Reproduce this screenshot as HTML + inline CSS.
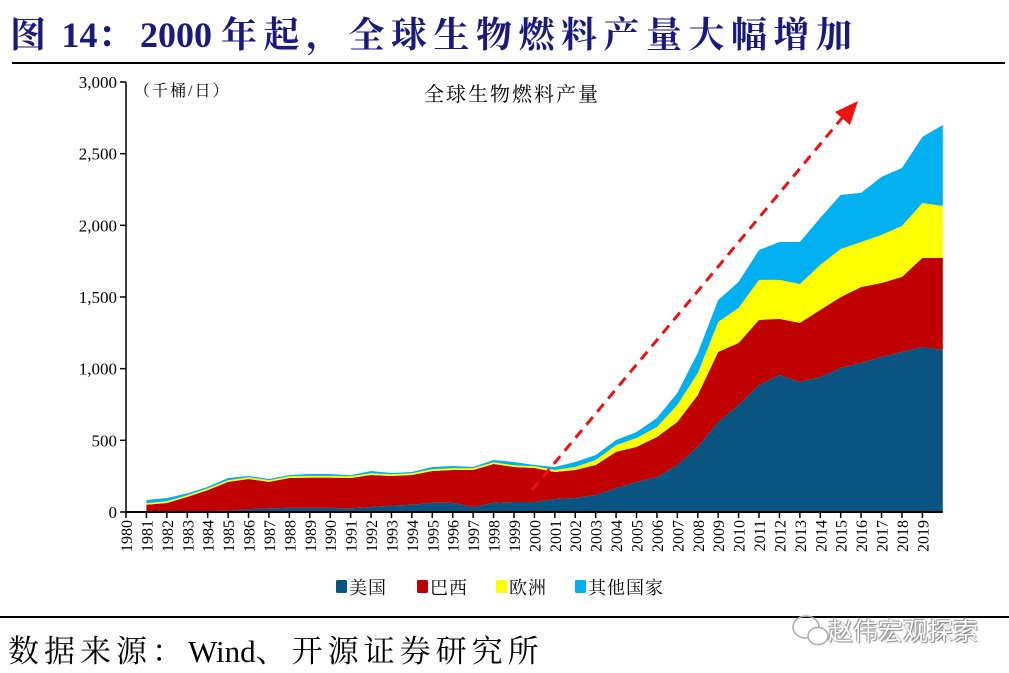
<!DOCTYPE html>
<html><head><meta charset="utf-8">
<style>
html,body{margin:0;padding:0;background:#fff;}
body{width:1009px;height:673px;position:relative;overflow:hidden;font-family:"Liberation Serif","Noto Serif CJK SC",serif;}
#title{position:absolute;left:10px;top:7px;font-size:36px;font-weight:bold;color:#1a1a7e;white-space:nowrap;}
#title .c{letter-spacing:6.5px;}
#src .c{letter-spacing:5px;}
#src{position:absolute;left:8px;top:626px;font-size:31px;color:#000;white-space:nowrap;}
#wm{position:absolute;left:828px;top:612px;font-size:25px;color:#fff;font-family:"Liberation Sans","Noto Sans CJK SC",sans-serif;text-shadow:0 0 1px #777,1px 1px 1px #888,-1px -1px 1px #999;white-space:nowrap;}
</style></head><body>
<div id="title"><span class="c">图</span> 14<span class="c">：</span>2000 <span class="c">年起，全球生物燃料产量大幅增加</span></div>
<svg id="chart" width="1009" height="673" style="position:absolute;left:0;top:0"></svg>
<div id="src"><span class="c">数据来源：</span>Wind<span class="c">、开源证券研究所</span></div>
<div id="wm">赵伟宏观探索</div>
<script>
const years = [1980,1981,1982,1983,1984,1985,1986,1987,1988,1989,1990,1991,1992,1993,1994,1995,1996,1997,1998,1999,2000,2001,2002,2003,2004,2005,2006,2007,2008,2009,2010,2011,2012,2013,2014,2015,2016,2017,2018,2019];
// data years 1981..2020 plotted at tick index 1..40
const usa = [0,0,0,5,10,20,25,30,30,30,25,35,45,50,65,65,35,65,70,70,91,98,119,167,209,244,328,454,628,747,886,956,907,942,1005,1040,1082,1117,1151,1130];
const brazil = [50,63,105,148,200,210,185,207,210,210,212,223,206,208,221,228,258,270,244,237,188,195,209,252,245,279,300,362,489,432,454,391,412,468,495,530,516,523,622,643];
const europe = [12,12,12,12,12,12,12,12,12,12,12,12,12,12,12,12,12,12,12,12,14,21,35,48,62,70,119,154,209,245,279,272,272,314,335,314,335,356,383,362];
const others = [22,23,13,10,15,9,8,9,13,13,8,16,9,9,16,16,9,16,23,9,21,35,35,35,42,63,83,140,153,181,209,265,293,328,377,342,405,404,461,565];
const yTicks = [0,500,1000,1500,2000,2500,3000];
const yTickLabels = ["0","500","1,000","1,500","2,000","2,500","3,000"];
const seriesNames = ["美国","巴西","欧洲","其他国家"];
const seriesColors = ["#0a5482","#c00000","#ffff00","#00b0f0"];

const NS="http://www.w3.org/2000/svg";
const svg=document.getElementById('chart');
const X0=126, DX=20.42, Y0=512, YTOP=82, YMAX=3000;
const xs=i=>X0+DX*i;
const ys=v=>Y0-(v/YMAX)*(Y0-YTOP);
function mk(tag,attrs,parent){const e=document.createElementNS(NS,tag);for(const k in attrs)e.setAttribute(k,attrs[k]);(parent||svg).appendChild(e);return e;}

let r=mk('line',{x1:12,y1:63,x2:1005,y2:63,stroke:'#000','stroke-width':2});


r=mk('line',{x1:0,y1:617,x2:1009,y2:617,stroke:'#000','stroke-width':2});



const series=[usa,brazil,europe,others];
const n=usa.length;
let base=new Array(n).fill(0);
series.forEach((s,si)=>{
  const top=base.map((b,i)=>b+s[i]);
  let d='';
  for(let i=0;i<n;i++) d+=(i?'L':'M')+xs(i+1).toFixed(1)+','+ys(top[i]).toFixed(1);
  for(let i=n-1;i>=0;i--) d+='L'+xs(i+1).toFixed(1)+','+ys(base[i]).toFixed(1);
  d+='Z';
  const p=mk('path',{d:d,fill:seriesColors[si]});
  
  
  base=top;
});

let ax=mk('line',{x1:X0,y1:YTOP,x2:X0,y2:Y0,stroke:'#000','stroke-width':1.5});


ax=mk('line',{x1:X0,y1:Y0,x2:xs(40),y2:Y0,stroke:'#000','stroke-width':2});


yTicks.forEach((v,i)=>{
  mk('line',{x1:X0-6,y1:ys(v),x2:X0,y2:ys(v),stroke:'#000','stroke-width':1.5});
  const t=mk('text',{x:X0-9,y:ys(v)+6,'text-anchor':'end','font-size':17,'font-family':'Liberation Serif, serif'});
  t.textContent=yTickLabels[i];
  
  
});
years.forEach((yr,i)=>{
  const x=xs(i);
  mk('line',{x1:x,y1:Y0,x2:x,y2:Y0+6,stroke:'#000','stroke-width':1.5});
  const t=mk('text',{x:0,y:0,'text-anchor':'end','font-size':16,'font-family':'Liberation Serif, serif',transform:`translate(${x+6},${Y0+8}) rotate(-90)`});
  t.textContent=yr;
  
  
});

let t=mk('text',{x:134,y:96,'font-size':16,'font-family':'Liberation Serif, Noto Serif CJK SC, serif','letter-spacing':2});
t.textContent='（千桶/日）';


t=mk('text',{x:512,y:101,'text-anchor':'middle','font-size':20,'font-family':'Liberation Serif, Noto Serif CJK SC, serif','letter-spacing':2});
t.textContent='全球生物燃料产量';



let a=mk('line',{x1:532,y1:490,x2:842,y2:118,stroke:'#ee1111','stroke-width':3,'stroke-dasharray':'10,7'});


a=mk('polygon',{points:'858,101 835,112 850,125',fill:'#ee1111'});



const lx=[336,417,496,575];
seriesNames.forEach((nm,i)=>{
  const g=mk('g',{});
  
  
  mk('rect',{x:lx[i],y:580,width:11,height:13,rx:1.5,fill:seriesColors[i]},g);
  const tt=mk('text',{x:lx[i]+13,y:594,'font-size':18,'font-family':'Liberation Serif, Noto Serif CJK SC, serif','letter-spacing':1},g);
  tt.textContent=nm;
});

mk('ellipse',{cx:806,cy:627,rx:13,ry:11,fill:'none',stroke:'#aaa','stroke-width':1.5});
mk('ellipse',{cx:818,cy:636,rx:10,ry:8.5,fill:'#fff',stroke:'#aaa','stroke-width':1.5});
</script>
</body></html>
